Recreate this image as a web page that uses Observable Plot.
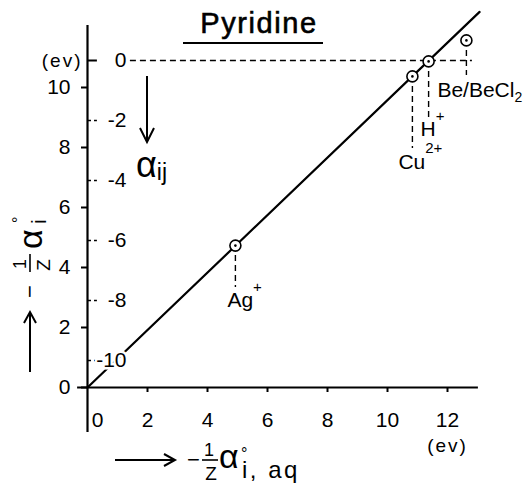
<!DOCTYPE html>
<html><head><meta charset="utf-8">
<script src="https://cdn.jsdelivr.net/npm/d3@7"></script>
<script src="https://cdn.jsdelivr.net/npm/@observablehq/plot@0.6"></script>
<style>body{margin:0;background:#fff}#chart{width:524px;height:483px}</style>
</head><body><div id="chart"></div>
<script>
// ---- data ----
const xTicks = [0, 2, 4, 6, 8, 10, 12];
const yTicks = [0, 2, 4, 6, 8, 10];
const alphaTicks = [0, -2, -4, -6, -8, -10];   // α_ij scale (ev)
const alphaZero = 10.9;                          // y value where α_ij = 0
const ions = ["Ag", "Cu", "H", "Be/BeCl"];
const ionSup = ["+", "2+", "+", ""];
const ionSub = ["", "", "", "2"];
const ionX = [4.93, 10.83, 11.37, 12.63];
const ionY = [4.73, 10.37, 10.87, 11.57];
const fitX = [0, 13.07];
const fitY = [0, 12.52];

// ---- layout ----
const FONT = "'Liberation Sans', Arial, sans-serif";
const ionLayout = [
  {dx: -8,  base: 2.67, drop: 3.33, supDy: -15},
  {dx: -14, base: 7.3,  drop: 7.97, supDy: -16},
  {dx: -8,  base: 8.4,  drop: 9.0,  supDy: -15},
  {dx: -29, base: 9.7,  drop: 10.4, subDy: 5}
];
const idx = ions.map((_, i) => i);
const fit = fitX.map((x, i) => ({x, y: fitY[i]}));

const ionLabelMarks = idx.map(i => Plot.text([i], {
  x: ionX[i], y: ionLayout[i].base, text: () => ions[i],
  dx: ionLayout[i].dx, textAnchor: "start", lineAnchor: "bottom",
  fontSize: 21
}));

const plot = Plot.plot({
  width: 524, height: 483,
  marginLeft: 87, marginRight: 47, marginTop: 12, marginBottom: 96,
  x: {domain: [0, 13], label: null},
  y: {domain: [0, 12.5], label: null},
  style: {fontFamily: FONT, fontSize: "21px", color: "black", background: "white", overflow: "visible"},
  marks: [
    Plot.ruleY([alphaZero], {x1: 1.43, x2: 12.83, strokeDasharray: "6,4", strokeWidth: 1.4}),
    Plot.ruleX(idx, {x: i => ionX[i], y1: i => ionY[i], y2: i => ionLayout[i].drop, strokeDasharray: "6,4", strokeWidth: 1.4}),
    Plot.line(fit, {x: "x", y: "y", strokeWidth: 2.2}),
    Plot.ruleY(alphaTicks.filter(d => d !== 0), {y: d => alphaZero + d, x1: 0, x2: 0.33, strokeDasharray: "4,3", strokeWidth: 1.6}),
    Plot.ruleY([0], {y: () => alphaZero, x1: 0, x2: 0.33, strokeWidth: 2}),
    Plot.text(alphaTicks, {x: 0, y: d => alphaZero + d, text: d => String(d), dx: 39, textAnchor: "end",
      fill: "black", stroke: "white", strokeWidth: 5}),
    Plot.ruleX([0], {y1: -1.5, y2: 12.07, strokeWidth: 2.2}),
    Plot.ruleY([0], {x1: -0.33, x2: 13.03, strokeWidth: 2.2}),
    Plot.axisY({ticks: yTicks, tickSize: 6, tickPadding: 11, strokeWidth: 2, label: null}),
    Plot.axisX({ticks: xTicks.filter(d => d > 0), tickSize: 5, tickPadding: 20, strokeWidth: 2, label: null}),
    Plot.text(["0"], {x: 0, y: 0, dx: 10, dy: 25, lineAnchor: "top"}),
    Plot.text(["(ev)"], {x: 0, y: alphaZero, dx: -5, textAnchor: "end", fontSize: 19}),
    Plot.text(["(ev)"], {x: 12, y: 0, dy: 58, fontSize: 19}),
    Plot.dot(idx, {x: i => ionX[i], y: i => ionY[i], r: 5.5, fill: "white", stroke: "black", strokeWidth: 1.6}),
    Plot.dot(idx, {x: i => ionX[i], y: i => ionY[i], r: 1.3, fill: "black"}),
    ...ionLabelMarks
  ]
});

const svg = d3.select(plot);
// letter-spacing for the "(ev)" labels
svg.selectAll("text").filter(function () { return this.textContent === "(ev)"; }).attr("letter-spacing", 2);
// superscripts / subscripts on the ion labels
svg.selectAll("text").each(function () {
  const i = ions.indexOf(this.textContent);
  if (i < 0) return;
  const t = d3.select(this);
  if (ionSup[i]) t.append("tspan").attr("dy", ionLayout[i].supDy).attr("font-size", 15).text(ionSup[i]);
  if (ionSub[i]) t.append("tspan").attr("dy", ionLayout[i].subDy).attr("font-size", 14).text(ionSub[i]);
});

// title
svg.append("text").attr("x", 259).attr("y", 33).attr("text-anchor", "middle")
  .attr("font-size", 29).attr("letter-spacing", 1.6).attr("font-family", FONT)
  .attr("stroke", "black").attr("stroke-width", 0.6).text("Pyridine");
svg.append("line").attr("x1", 183).attr("x2", 323).attr("y1", 43).attr("y2", 43)
  .attr("stroke", "black").attr("stroke-width", 2);

// α_ij label with arrow
svg.append("path").attr("d", "M147,76V140").attr("stroke", "black").attr("stroke-width", 2);
svg.append("path").attr("d", "M140,128L147,142L154,128").attr("fill", "none").attr("stroke", "black").attr("stroke-width", 2);
const aij = svg.append("text").attr("x", 136).attr("y", 177).attr("text-anchor", "start")
  .attr("font-family", FONT).attr("font-size", 36);
aij.append("tspan").text("α");
aij.append("tspan").attr("dy", 3).attr("font-size", 23).text("ij");

function mathLabel(g, p) {
  const L = p.arrowLen;
  g.append("path").attr("d", `M0,0H${L - 2}`).attr("stroke", "black").attr("stroke-width", 2);
  g.append("path").attr("d", `M${L - 11},-6L${L},0L${L - 11},6`).attr("fill", "none").attr("stroke", "black").attr("stroke-width", 2);
  g.append("text").attr("x", p.minus).attr("y", 7).attr("font-size", 22).text("−");
  g.append("line").attr("x1", p.bar[0]).attr("x2", p.bar[1]).attr("y1", 0).attr("y2", 0).attr("stroke", "black").attr("stroke-width", 1.6);
  g.append("text").attr("x", p.num).attr("y", -4).attr("text-anchor", "middle").attr("font-size", 18).text("1");
  g.append("text").attr("x", p.den).attr("y", 20).attr("text-anchor", "middle").attr("font-size", 19).text("Z");
  g.append("text").attr("x", p.alpha).attr("y", p.alphaBase).attr("font-size", 34).text("α");
  g.append("text").attr("x", p.deg[0]).attr("y", p.deg[1]).attr("font-size", 16).text("°");
  g.append("text").attr("x", p.sub[0]).attr("y", p.sub[1]).attr("font-size", p.subSize)
    .attr("letter-spacing", p.subSpacing).text(p.subText);
}
const gx = svg.append("g").attr("transform", "translate(115,460)").attr("font-family", FONT).attr("text-anchor", "start");
mathLabel(gx, {arrowLen: 60, minus: 72, bar: [87, 103], num: 94, den: 96, alpha: 104, alphaBase: 8,
  deg: [126, -1], sub: [127, 18], subSize: 24, subSpacing: 2.5, subText: "i, aq"});
const gy = svg.append("g").attr("transform", "translate(30,372) rotate(-90)").attr("font-family", FONT).attr("text-anchor", "start");
mathLabel(gy, {arrowLen: 60, minus: 74, bar: [100, 118], num: 108, den: 107, alpha: 123, alphaBase: 12,
  deg: [149, -6], sub: [148, 16], subSize: 21, subSpacing: 0, subText: "i"});

document.getElementById("chart").appendChild(plot);
</script>
</body></html>
